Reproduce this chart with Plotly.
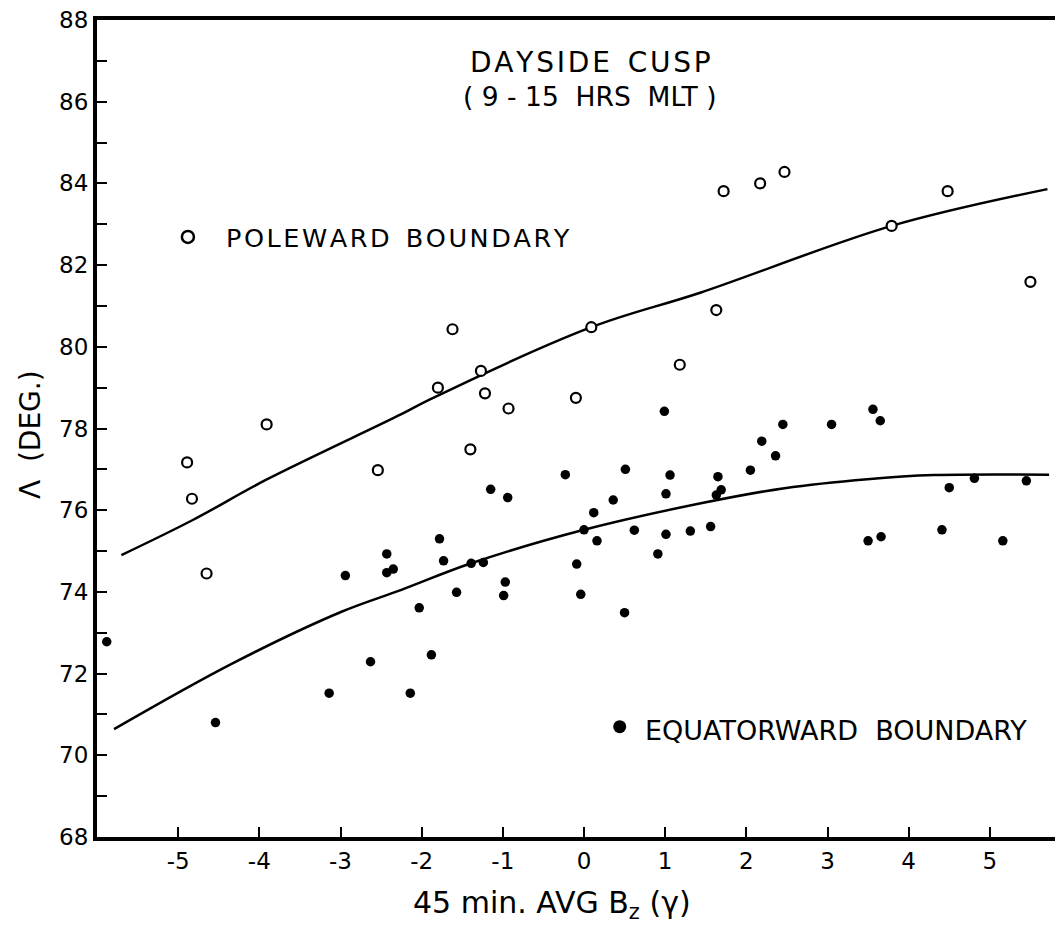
import plotly.graph_objects as go

# Poleward boundary (open circles)
pole_x = [-4.89, -4.83, -4.65, -3.91, -2.54, -1.80, -1.62, -1.40, -1.27, -1.22, -0.93,
          -0.10, 0.09, 1.18, 1.63, 1.72, 2.17, 2.47, 3.79, 4.48, 5.50]
pole_y = [77.17, 76.28, 74.45, 78.10, 76.98, 79.00, 80.43, 77.49, 79.41, 78.86, 78.49,
          78.75, 80.48, 79.56, 80.90, 83.81, 84.00, 84.28, 82.96, 83.81, 81.59]

# Equatorward boundary (filled dots)
eq_x = [-5.88, -4.54, -3.14, -2.94, -2.63, -2.43, -2.43, -2.35, -2.14, -2.03, -1.88,
        -1.78, -1.73, -1.57, -1.39, -1.24, -1.15, -0.99, -0.97, -0.94, -0.23, -0.09,
        -0.04, 0.00, 0.12, 0.16, 0.36, 0.50, 0.51, 0.62, 0.91, 0.99, 1.01, 1.01, 1.06,
        1.31, 1.56, 1.63, 1.65, 1.69, 2.05, 2.19, 2.36, 2.45, 3.05, 3.50, 3.56, 3.65,
        3.66, 4.41, 4.50, 4.81, 5.16, 5.45]
eq_y = [72.78, 70.80, 71.52, 74.40, 72.29, 74.93, 74.47, 74.56, 71.52, 73.61, 72.46,
        75.30, 74.76, 73.99, 74.70, 74.72, 76.51, 73.91, 74.24, 76.31, 76.87, 74.68,
        73.94, 75.52, 75.94, 75.25, 76.25, 73.49, 77.00, 75.51, 74.93, 78.42, 76.40,
        75.41, 76.86, 75.49, 75.60, 76.37, 76.82, 76.50, 76.98, 77.69, 77.33, 78.10,
        78.10, 75.25, 78.47, 78.19, 75.35, 75.52, 76.55, 76.78, 75.25, 76.72]

# Fitted curves
pole_fit_x = [-5.70, -4.82, -3.92, -2.25, -1.91, 0.09, 1.44, 3.79, 5.71]
pole_fit_y = [74.90, 75.76, 76.74, 78.35, 78.70, 80.48, 81.33, 82.96, 83.86]

eq_fit_x = [-5.79, -4.33, -2.98, -2.25, -1.39, 0.00, 1.44, 2.47, 3.49, 4.31, 5.73]
eq_fit_y = [70.64, 72.25, 73.52, 74.05, 74.70, 75.52, 76.17, 76.54, 76.76, 76.86, 76.87]

y_ticks = list(range(68, 89, 2))
x_ticks = [-5, -4, -3, -2, -1, 0, 1, 2, 3, 4, 5]

FONT = "DejaVu Sans"
HS = "\u200a"


def spaced(s):
    return HS.join(list(s))


fig = go.Figure()
fig.add_trace(go.Scatter(x=pole_fit_x, y=pole_fit_y, mode="lines",
                         line=dict(color="black", width=2.5, shape="spline", smoothing=1.0), hoverinfo="skip"))
fig.add_trace(go.Scatter(x=eq_fit_x, y=eq_fit_y, mode="lines",
                         line=dict(color="black", width=2.5, shape="spline", smoothing=1.0), hoverinfo="skip"))
fig.add_trace(go.Scatter(x=pole_x, y=pole_y, mode="markers",
                         marker=dict(symbol="circle", size=10, color="white", line=dict(color="black", width=2.2))))
fig.add_trace(go.Scatter(x=eq_x, y=eq_y, mode="markers",
                         marker=dict(symbol="circle", size=9.5, color="black")))
# in-chart legend markers
fig.add_trace(go.Scatter(x=[-4.88], y=[82.69], mode="markers",
                         marker=dict(symbol="circle", size=12, color="white", line=dict(color="black", width=2.5))))
fig.add_trace(go.Scatter(x=[0.44], y=[70.70], mode="markers",
                         marker=dict(symbol="circle", size=13, color="black")))

fig.add_annotation(x=-4.43, y=82.67, text=spaced("POLEWARD") + "  " + spaced("BOUNDARY"), showarrow=False,
                   xanchor="left", yanchor="middle", font=dict(family=FONT, size=25.5, color="black"))
fig.add_annotation(x=0.73, y=70.60, text="EQUATORWARD  BOUNDARY", showarrow=False,
                   xanchor="left", yanchor="middle", font=dict(family=FONT, size=27, color="black"))
fig.add_annotation(x=0.08, y=86.95, text=spaced("DAYSIDE") + "  " + spaced("CUSP"), showarrow=False,
                   xanchor="center", yanchor="middle", font=dict(family=FONT, size=28, color="black"))
fig.add_annotation(x=0.08, y=86.12, text="( 9 - 15  HRS  MLT )", showarrow=False,
                   xanchor="center", yanchor="middle", font=dict(family=FONT, size=26.5, color="black"))

# axis titles
fig.add_annotation(xref="paper", yref="paper", x=0.467, y=-0.083, text="45 min. AVG B<sub>z</sub> (γ)",
                   showarrow=False, xanchor="center", yanchor="middle", font=dict(family=FONT, size=30, color="black"))
fig.add_annotation(xref="paper", yref="paper", x=0, xshift=-67, y=0.492, text="Λ  (DEG.)", textangle=-90,
                   showarrow=False, xanchor="center", yanchor="middle", font=dict(family=FONT, size=28, color="black"))

fig.update_xaxes(range=[-6, 6], tickvals=x_ticks, ticktext=[str(v) for v in x_ticks],
                 ticks="inside", ticklen=10, tickwidth=2, tickcolor="black",
                 showline=True, linewidth=4, linecolor="black", mirror=True,
                 showgrid=False, zeroline=False, ticklabeloverflow="allow",
                 tickfont=dict(family=FONT, size=23, color="black"))
fig.update_yaxes(range=[68, 88], tickvals=y_ticks, ticktext=[str(v) for v in y_ticks],
                 ticks="inside", ticklen=10, tickwidth=2, tickcolor="black",
                 minor=dict(dtick=1, ticks="inside", ticklen=10, tickwidth=2, tickcolor="black", showgrid=False),
                 showline=True, linewidth=4, linecolor="black",
                 showgrid=False, zeroline=False, ticklabeloverflow="allow",
                 tickfont=dict(family=FONT, size=23, color="black"))

fig.update_layout(width=1063, height=928, margin=dict(l=89, r=0, t=12, b=99),
                  plot_bgcolor="white", paper_bgcolor="white", showlegend=False)

fig.write_html("out.html")
